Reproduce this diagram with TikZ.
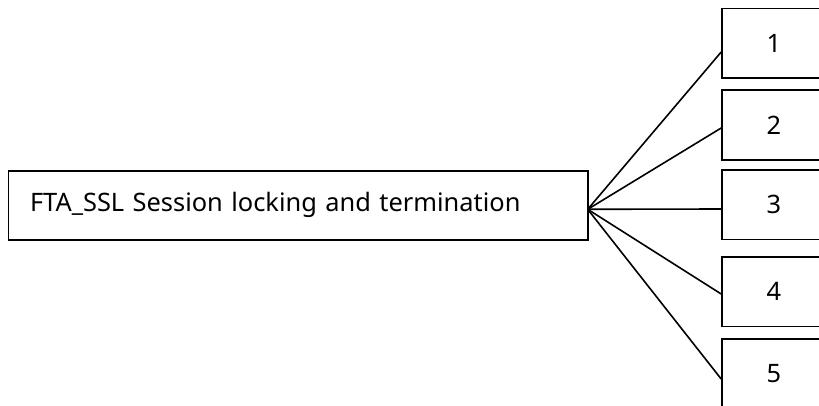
\documentclass[tikz,border=0pt]{standalone}
\usepackage{fontspec}
\setmainfont{Noto Sans}
\begin{document}
\begin{tikzpicture}[x=1pt,y=1pt,
  box/.style={draw=black, line width=1.6pt, rectangle, inner sep=0pt},
  leaf/.style={box, minimum width=104pt, minimum height=69.5pt, font=\fontsize{25.4}{30}\selectfont},
  conn/.style={draw=black, line width=1.6pt}]
\useasboundingbox (0,0) rectangle (819,405);
\clip (0,0) rectangle (819,405);
\node[box, minimum height=69.3pt, text width=536pt, inner xsep=21.7pt, align=left,
      font=\fontsize{25.4}{30}\selectfont] (main) at (298,199.65) {FTA\_SSL Session locking and termination};
\coordinate (hub) at (587.7,195.7);
\node[leaf] (b1) at (774,361.8) {1};
\node[leaf] (b2) at (774,280) {2};
\node[leaf] (b3) at (774,200.1) {3};
\node[leaf] (b4) at (774,113.3) {4};
\node[leaf] (b5) at (774,31) {5};
\draw[conn] (hub) -- ([yshift=-8.8pt]b1.west);
\draw[conn] (hub) -- ([yshift=-3pt]b2.west);
\draw[conn] (hub) -- ([yshift=-4.1pt]b3.west);
\draw[conn] (hub) -- ([yshift=-2.3pt]b4.west);
\draw[conn] (hub) -- ([yshift=-5pt]b5.west);
\end{tikzpicture}
\end{document}
